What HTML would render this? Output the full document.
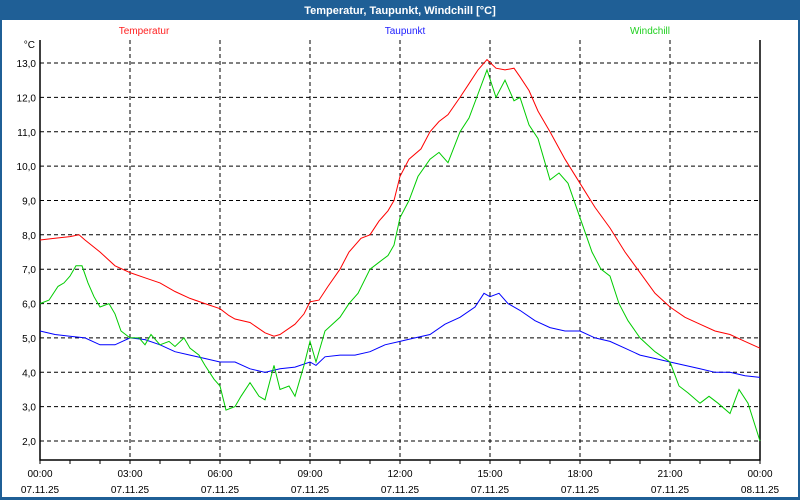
<!DOCTYPE html>
<html><head><meta charset="utf-8"><style>
html,body{margin:0;padding:0;background:#fff}
svg{display:block;font-family:"Liberation Sans",sans-serif}
</style></head><body>
<svg id="s" width="800" height="500" xmlns="http://www.w3.org/2000/svg">
<rect x="0" y="0" width="800" height="500" fill="#1f5f96"/>
<rect x="2" y="20" width="796" height="477" fill="#fff"/>
<text x="400" y="14" fill="#fff" font-size="11" font-weight="bold" text-anchor="middle">Temperatur, Taupunkt, Windchill [°C]</text>
<text x="144" y="34" fill="#ff2020" font-size="10" text-anchor="middle">Temperatur</text>
<text x="405" y="34" fill="#2020ff" font-size="10" text-anchor="middle">Taupunkt</text>
<text x="650" y="34" fill="#20d020" font-size="10" text-anchor="middle">Windchill</text>
<text x="35" y="48" font-size="10" text-anchor="end">°C</text>
<g id="g"></g>
</svg>
<script>
var g=document.getElementById('g'),h='';
function X(t){return 40+t*30}
function Y(v){return 441-(v-2)*34.36}
for(var v=2;v<=13;v++){var y=Y(v).toFixed(1);
h+='<line x1="40" y1="'+y+'" x2="760" y2="'+y+'" stroke="#000" stroke-dasharray="4,3"/>';
h+='<text x="36" y="'+(+y+4)+'" font-size="10" text-anchor="end">'+v+',0</text>';}
for(var t=0;t<=24;t++){var x=X(t);
h+='<line x1="'+x+'" y1="460" x2="'+x+'" y2="464" stroke="#000"/>';
if(t%3==0){ if(t>0&&t<24)h+='<line x1="'+x+'" y1="40" x2="'+x+'" y2="460" stroke="#000" stroke-dasharray="4,3"/>';
var lab=(t%24<10?'0':'')+(t%24)+':00';
h+='<text x="'+x+'" y="477" font-size="10" text-anchor="middle">'+lab+'</text>';
h+='<text x="'+x+'" y="493" font-size="10" text-anchor="middle">'+(t==24?'08.11.25':'07.11.25')+'</text>';}}
h+='<path d="M40,40V460H760V40" fill="none" stroke="#000" stroke-width="1.5"/>';
function line(d,c){var p=[];for(var i=0;i<d.length;i+=2)p.push(X(d[i]).toFixed(1)+','+Y(d[i+1]).toFixed(1));
h+='<polyline points="'+p.join(' ')+'" fill="none" stroke="'+c+'" stroke-width="1"/>';}
line([0,7.85,0.5,7.9,1,7.95,1.3,8.0,1.5,7.85,2,7.5,2.5,7.1,3,6.9,3.5,6.75,4,6.6,4.5,6.35,5,6.15,5.5,6.0,6,5.85,6.3,5.65,6.5,5.55,7,5.45,7.5,5.15,7.8,5.05,8,5.1,8.5,5.4,8.8,5.7,9,6.05,9.3,6.1,9.6,6.5,10,7.0,10.3,7.5,10.7,7.9,11,8.0,11.3,8.4,11.6,8.7,11.8,9.0,12,9.7,12.3,10.2,12.7,10.5,13,11.0,13.3,11.3,13.6,11.5,14,12.0,14.3,12.4,14.6,12.8,14.9,13.1,15.2,12.85,15.5,12.8,15.8,12.85,16,12.6,16.3,12.2,16.6,11.6,17,11.0,17.5,10.2,18,9.5,18.5,8.8,19,8.2,19.5,7.5,20,6.9,20.5,6.3,21,5.9,21.5,5.6,22,5.4,22.5,5.2,23,5.1,23.5,4.9,24,4.7],'#ff0000');
line([0,5.2,0.5,5.1,1,5.05,1.5,5.0,2,4.8,2.5,4.8,3,5.0,3.5,4.95,4,4.8,4.5,4.6,5,4.5,5.5,4.4,6,4.3,6.5,4.3,7,4.1,7.5,4.0,8,4.1,8.5,4.15,9,4.3,9.2,4.2,9.5,4.45,10,4.5,10.5,4.5,11,4.6,11.5,4.8,12,4.9,12.5,5.0,13,5.1,13.5,5.4,14,5.6,14.5,5.9,14.8,6.3,15,6.2,15.3,6.3,15.6,6.0,16,5.8,16.5,5.5,17,5.3,17.5,5.2,18,5.2,18.5,5.0,19,4.9,19.5,4.7,20,4.5,20.5,4.4,21,4.3,21.5,4.2,22,4.1,22.5,4.0,23,4.0,23.5,3.9,24,3.85],'#0000ff');
line([0,6.0,0.3,6.1,0.6,6.5,0.8,6.6,1,6.8,1.2,7.1,1.4,7.1,1.6,6.6,1.8,6.2,2,5.9,2.3,6.0,2.5,5.7,2.7,5.2,3,5.0,3.3,5.0,3.5,4.8,3.7,5.1,4,4.8,4.3,4.9,4.5,4.75,4.8,5.0,5,4.7,5.3,4.5,5.5,4.2,5.8,3.8,6,3.6,6.2,2.9,6.5,3.0,6.7,3.3,7,3.7,7.3,3.3,7.5,3.2,7.8,4.2,8,3.5,8.3,3.6,8.5,3.3,8.8,4.2,9,4.9,9.2,4.3,9.5,5.2,10,5.6,10.3,6.0,10.6,6.3,11,7.0,11.3,7.2,11.6,7.4,11.8,7.7,12,8.5,12.3,9.0,12.6,9.7,13,10.2,13.3,10.4,13.6,10.1,14,11.0,14.3,11.4,14.6,12.1,14.9,12.8,15.2,12.0,15.5,12.5,15.8,11.9,16,12.0,16.3,11.2,16.6,10.8,17,9.6,17.3,9.8,17.6,9.5,18,8.5,18.4,7.5,18.7,7.0,19,6.8,19.3,6.0,19.6,5.5,20,5.0,20.5,4.6,21,4.3,21.3,3.6,21.6,3.4,22,3.1,22.3,3.3,22.6,3.1,23,2.8,23.3,3.5,23.6,3.1,24,2.0],'#00cc00');
g.innerHTML=h;
</script>
</body></html>
